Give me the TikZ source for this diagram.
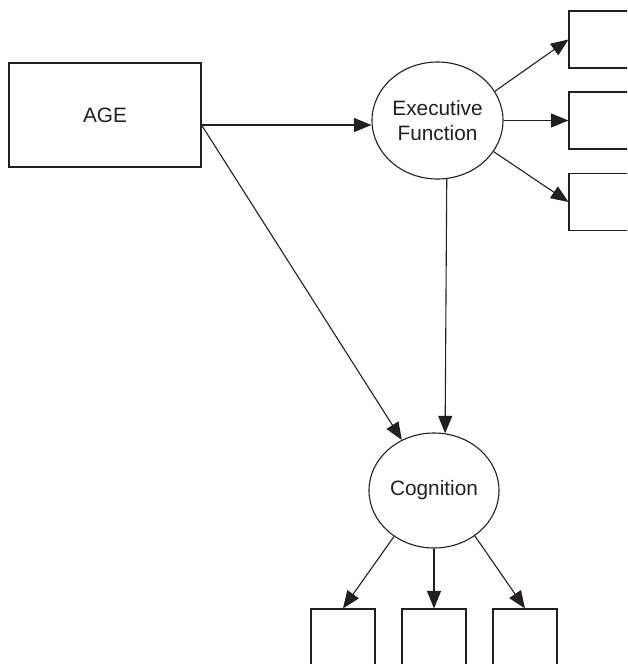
\documentclass[tikz,border=0pt]{standalone}
\usepackage{fontspec}
\setmainfont{Liberation Sans}
\usetikzlibrary{shapes.geometric,arrows.meta}
\definecolor{ink}{HTML}{231F20}
\begin{document}
\begin{tikzpicture}[x=1pt,y=-1pt,
  box/.style={draw=ink,line width=1.1pt,rectangle,inner sep=0pt},
  latent/.style={draw=ink,line width=1.1pt,ellipse,inner sep=0pt,align=center,text=ink,font=\fontsize{20.8}{25}\selectfont},
  arr/.style={draw=ink,line width=1.1pt,-{Triangle[length=17.5pt,width=14pt]}}]
\useasboundingbox (0,0) rectangle (627,664);
\begin{scope}
\clip (0,0) rectangle (627,664);
\node[box,minimum width=192pt,minimum height=104pt,text=ink,font=\fontsize{20.8}{25}\selectfont] (AGE) at (105,115) {AGE};
\node[latent,minimum width=131pt,minimum height=117pt] (EF) at (437.5,120.5) {Executive\\Function};
\node[latent,minimum width=130pt,minimum height=115pt] (Cog) at (434,490.5) {Cognition};
\node[box,minimum width=80pt,minimum height=57pt] (b1) at (609,39.5) {};
\node[box,minimum width=80pt,minimum height=57pt] (b2) at (609,120.5) {};
\node[box,minimum width=80pt,minimum height=57pt] (b3) at (609,202) {};
\node[box,minimum width=64pt,minimum height=70pt] (c1) at (343,644) {};
\node[box,minimum width=64pt,minimum height=70pt] (c2) at (434,644) {};
\node[box,minimum width=64pt,minimum height=70pt] (c3) at (525,644) {};
\end{scope}
\coordinate (ageout) at (AGE.east |- 0,125);
\draw[arr] (ageout) -- (ageout -| EF.west);
\draw[arr] (ageout) -- (Cog);
\draw[arr] (EF.27) -- (b1.west);
\draw[arr] (EF.east) -- (b2.west);
\draw[arr] (EF.-29) -- (b3.west);
\draw[arr] (EF.-81) -- (Cog.79);
\draw[arr] (Cog.-131) -- (c1.north);
\draw[arr] (Cog.south) -- (c2.north);
\draw[arr] (Cog.-48) -- (c3.north);
\end{tikzpicture}
\end{document}
